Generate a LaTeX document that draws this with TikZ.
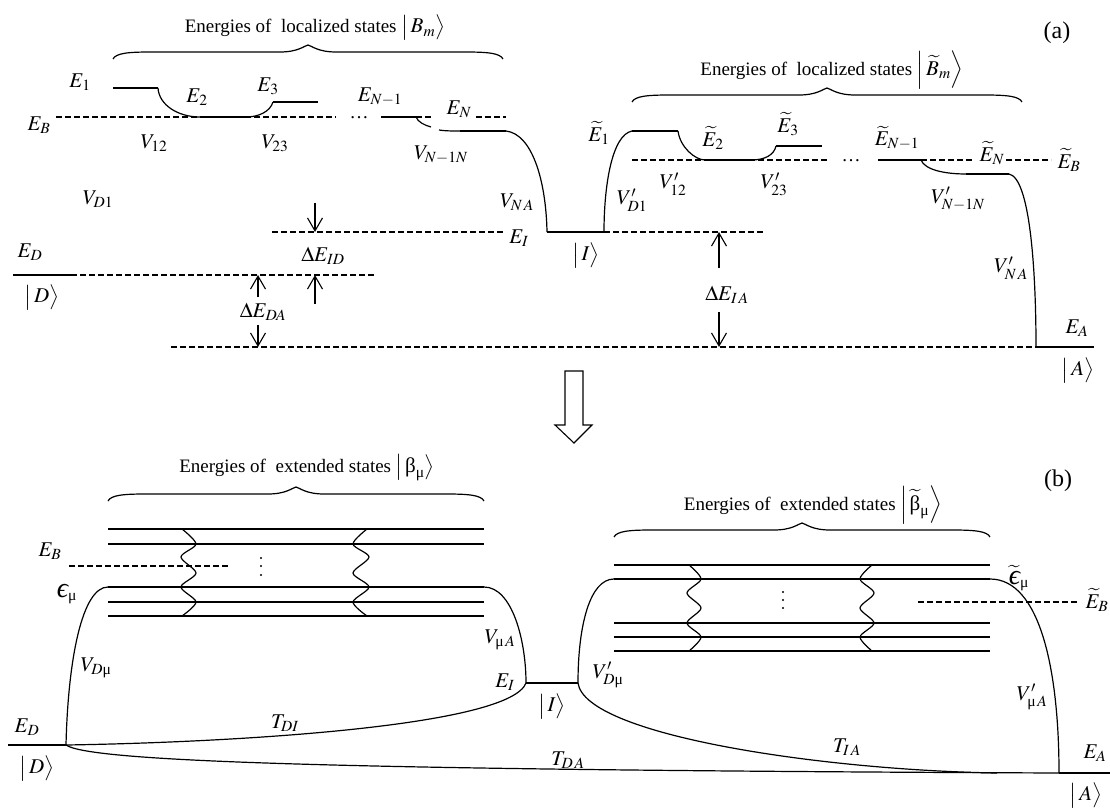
\documentclass[tikz,border=0pt]{standalone}
\usepackage{amsmath,amssymb}
\usepackage[no-math]{fontspec}
\usepackage{mathptmx}
\setmainfont{Liberation Serif}
\usetikzlibrary{arrows.meta}
\newcommand{\mub}{\text{μ}}
\newcommand{\bet}{\text{β}}
\newcommand{\epsl}{\text{\fontsize{28}{28}\selectfont\itshape ϵ}}
\newcommand{\titlesize}{\fontsize{19}{21}\selectfont}
\newcommand{\labsize}{\fontsize{21}{24}\selectfont}
\newcommand{\statelab}[1]{{\labsize$\left|\vphantom{\rule[-8pt]{0pt}{24pt}}\,#1\right\rangle$}}
% brace over a group of levels: left, tip, right, height of the ends
\newcommand{\statebrace}[4]{
\draw[cpl] (#1,#4) .. controls +(3,-6) and +(-22,0) .. ({#1+38},{#4-7}) -- ({#2-28},{#4-7})
 .. controls +(18,0) and +(-4,1) .. (#2,{#4-14}) .. controls +(4,1) and +(-18,0) .. ({#2+28},{#4-7})
 -- ({#3-38},{#4-7}) .. controls +(22,0) and +(-3,-6) .. (#3,#4);
}
\tikzset{
lev/.style={line width=2.1pt},
dlev/.style={line width=1.2pt,dash pattern=on 6pt off 3pt},
cpl/.style={line width=1.2pt},
gap/.style={line width=1.1pt,-{Straight Barb[length=13pt,width=15pt,line width=1.1pt]}},
every node/.style={inner sep=0pt,font=\labsize},
title/.style={font=\titlesize},
panel/.style={font=\fontsize{24}{26}\selectfont}
}
\begin{document}
\begin{tikzpicture}[x=1pt,y=-1pt]
\useasboundingbox (0,0) rectangle (1110,808);
% (a)
\node[title] (ta) at (315,28) {Energies of\ \ localized states \statelab{B_m}};
\node[title] (tb) at (832,70) {Energies of\ \ localized states \statelab{\widetilde{B}_m}};
\statebrace{113}{308}{503}{59}
\statebrace{632}{827}{1022}{102}
\node[panel] (panela) at (1057,33) {(a)};
% left chain
\draw[lev] (113,88)--(158,88);
\draw[lev] (200,117)--(246,117);
\draw[lev] (273,102)--(318,102);
\draw[lev] (381,117)--(416,117);
\draw[lev] (460,131)--(506,131);
\draw[dlev] (56,117)--(336,117);
\draw[dlev] (416,117)--(431,117);
\draw[dlev] (476,117)--(506,117);
\draw[cpl] (158,88) .. controls (159,105) and (178,117) .. (200,117);
\draw[cpl] (246,117) .. controls (258,117) and (270,112) .. (273,102);
\draw[cpl] (416,117) .. controls (418,122) and (424,125) .. (431,127);
\draw[cpl] (439,130) .. controls (445,131) and (452,131) .. (460,131);
\draw[cpl] (506,131) .. controls (532,134) and (546,180) .. (547,232);
\node (e1) at (80,82) {$E_1$};
\node (e2) at (197,97) {$E_2$};
\node (e3) at (268,86) {$E_3$};
\node (enm) at (380,97) {$E_{N-1}$};
\node (en) at (459,109) {$E_N$};
\node (eb) at (39,125) {$E_B$};
\node[title] (dots) at (359,118) {…};
\node (v12) at (154,143) {$V_{12}$};
\node (v23) at (275,143) {$V_{23}$};
\node (vnn) at (441,155) {$V_{N-1N}$};
\node (vd1) at (98,199) {$V_{D1}$};
\node (vna) at (517,202) {$V_{N\,A}$};
% right chain
\draw[lev] (632,131)--(678,131);
\draw[lev] (705,160)--(751,160);
\draw[lev] (776,146)--(822,146);
\draw[lev] (878,160)--(921,160);
\draw[lev] (966,174)--(1009,174);
\draw[dlev] (632,160)--(828,160);
\draw[dlev] (921,160)--(973,160);
\draw[dlev] (1006,160)--(1051,160);
\draw[cpl] (604,232) .. controls (604,185) and (612,135) .. (632,131);
\draw[cpl] (678,131) .. controls (680,147) and (695,160) .. (705,160);
\draw[cpl] (751,160) .. controls (765,160) and (774,155) .. (776,146);
\draw[cpl] (921,160) .. controls (925,170) and (945,174) .. (966,174);
\draw[cpl] (1009,174) .. controls (1030,178) and (1036,270) .. (1036,347);
\node (e1t) at (599,133) {$\widetilde{E}_1$};
\node (e2t) at (713,138) {$\widetilde{E}_2$};
\node (e3t) at (788,124) {$\widetilde{E}_3$};
\node (enmt) at (897,138) {$\widetilde{E}_{N-1}$};
\node (ent) at (992,153) {$\widetilde{E}_N$};
\node (ebt) at (1069,160) {$\widetilde{E}_B$};
\node[title] (dotst) at (851,161) {…};
\node (v12t) at (673,184) {$V'_{12}$};
\node (v23t) at (774,184) {$V'_{23}$};
\node (vd1t) at (632,200) {$V'_{D1}$};
\node (vnnt) at (958,199) {$V'_{N-1N}$};
\node (vnat) at (1011,268) {$V'_{N\,A}$};
% lower levels
\draw[lev] (13,275)--(71,275);
\draw[lev] (547,232)--(604,232);
\draw[lev] (1036,347)--(1094,347);
\draw[dlev] (71,275)--(375,275);
\draw[dlev] (272,232)--(504,232);
\draw[dlev] (604,232)--(763,232);
\draw[dlev] (171,347)--(1036,347);
\node (ed) at (30,252) {$E_D$};
\node (ketd) at (42,298) {\statelab{D}};
\node (ei) at (519,238) {$E_I$};
\node (keti) at (586,256) {\statelab{I}};
\node (ea) at (1077,328) {$E_A$};
\node (keta) at (1078,371) {\statelab{A}};
\node (did) at (323,256) {$\Delta E_{ID}$};
\node (dda) at (263,312) {$\Delta E_{DA}$};
\node (dia) at (727,295) {$\Delta E_{I\,A}$};
\draw[gap] (315,203)--(315,232);
\draw[gap] (315,304)--(315,275);
\draw[gap] (258,297)--(258,275);
\draw[gap] (258,325)--(258,347);
\draw[gap] (719,268)--(719,232);
\draw[gap] (719,312)--(719,347);
% hollow arrow
\draw[line width=1.1pt] (565,371)--(583,371)--(583,425)--(592,425)--(574,443)--(555,425)--(565,425)--cycle;
% (b)
\node[title] (tc) at (307,468) {Energies of\ \ extended states \statelab{\bet_{\mub}}};
\node[title] (td) at (813,505) {Energies of\ \ extended states \statelab{\widetilde{\bet}_{\mub}}};
\statebrace{108}{296}{484}{501}
\statebrace{614}{802}{990}{537}
\node[panel] (panelb) at (1058,481) {(b)};
\foreach \y in {529,544,587,602,616}
  \draw[lev] (108,\y)--(484,\y);
\foreach \y in {565,579,623,637,651}
  \draw[lev] (614,\y)--(990,\y);
\draw[cpl] plot[smooth] coordinates {(182,529)(196,544)(181,557)(196,573)(181,587)(196,602)(182,616)};
\draw[cpl] plot[smooth] coordinates {(367,529)(353,544)(369,557)(353,573)(369,587)(353,602)(367,616)};
\draw[cpl] plot[smooth] coordinates {(689,565)(701,579)(687,593)(701,608)(687,623)(701,637)(689,651)};
\draw[cpl] plot[smooth] coordinates {(872,565)(860,579)(874,593)(860,608)(874,623)(860,637)(872,651)};
\draw[dlev] (69,566)--(228,566);
\draw[dlev] (918,602)--(1077,602);
\foreach \y in {558,566,575}
  \fill (261,\y) circle (1.2);
\foreach \y in {592,600,608}
  \fill (783,\y) circle (1.2);
\draw[lev] (8,745)--(66,745);
\draw[lev] (526,683)--(578,683);
\draw[lev] (1059,773)--(1110,773);
\draw[cpl] (66,745) .. controls (68,660) and (82,587) .. (108,587);
\draw[cpl] (484,587) .. controls (512,587) and (526,640) .. (526,683);
\draw[cpl] (578,683) .. controls (578,625) and (590,579) .. (614,579);
\draw[cpl] (990,579) .. controls (1040,579) and (1059,670) .. (1059,773);
\draw[cpl] (66,745) .. controls (250,742) and (510,725) .. (526,683);
\draw[cpl] (578,683) .. controls (585,735) and (820,770) .. (997,773);
\draw[cpl] (66,745) .. controls (90,762) and (350,770) .. (1059,773);
\node (ebc) at (50,551) {$E_B$};
\node (epc) at (67,594) {$\epsl_{\mub}$};
\node (vdm) at (96,668) {$V_{D\mub}$};
\node (vma) at (500,640) {$V_{\mub\,A}$};
\node (eic) at (505,682) {$E_I$};
\node (edc) at (27,727) {$E_D$};
\node (ketdc) at (37,769) {\statelab{D}};
\node (keti2) at (552,707) {\statelab{I}};
\node (tdi) at (285,723) {$T_{DI}$};
\node (tda) at (568,760) {$T_{D\,A}$};
\node (tia) at (847,747) {$T_{I\,A}$};
\node (ept) at (1019,578) {$\widetilde{\epsl}_{\mub}$};
\node (ebd) at (1097,600) {$\widetilde{E}_B$};
\node (vdmt) at (608,675) {$V'_{D\mub}$};
\node (vmat) at (1032,697) {$V'_{\mub\,A}$};
\node (eac) at (1095,753) {$E_A$};
\node (ketac) at (1086,796) {\statelab{A}};
\end{tikzpicture}
\end{document}
